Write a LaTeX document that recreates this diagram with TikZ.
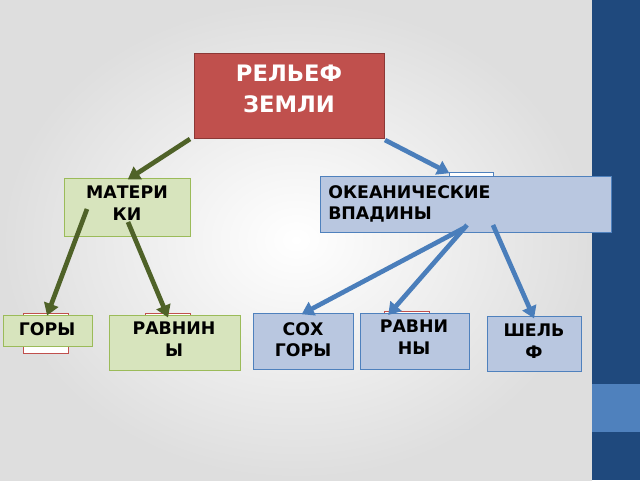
\documentclass[tikz,border=0pt]{standalone}
\usepackage{fontspec}
\setmainfont{DejaVu Sans}
\usetikzlibrary{arrows.meta,calc}
\definecolor{redf}{HTML}{C0504D}\definecolor{redd}{HTML}{8C3836}
\definecolor{grf}{HTML}{D7E4BD}\definecolor{grd}{HTML}{9BBB59}
\definecolor{blf}{HTML}{B9C7E0}\definecolor{bld}{HTML}{4F81BD}
\definecolor{garr}{HTML}{4F6228}\definecolor{barr}{HTML}{4A7EBB}
\definecolor{bar}{HTML}{1F497D}\definecolor{barl}{HTML}{4F81BD}
\begin{document}
\begin{tikzpicture}[x=0.75pt,y=-0.75pt,
 bx/.style={draw,line width=0.8pt,inner sep=0pt,align=center,anchor=north west},
 gbx/.style={bx,fill=grf,draw=grd,text=black},
 bbx/.style={bx,fill=blf,draw=bld,text=black},
 tab/.style={draw,line width=1pt,fill=white,anchor=north west,inner sep=0pt},
 lbl/.style={anchor=north,inner sep=0pt,align=center,font=\bfseries\fontsize{13}{16}\selectfont},
 garrow/.style={draw=garr,line width=3.5pt,-{Triangle[length=9pt,width=11pt]},shorten >=-2pt},
 barrow/.style={draw=barr,line width=3.5pt,-{Triangle[length=9pt,width=11pt]},shorten >=-2pt}]
\useasboundingbox (0,0) rectangle (640,480);
\shade[inner color=white,outer color=black!13] (0,0) rectangle (592,480);
\fill[bar] (592,0) rectangle (640,480);
\fill[barl] (592,384) rectangle (640,432);
% tabs behind
\node[tab,draw=redf,minimum width=33.75pt,minimum height=30pt] (t1) at (23,313) {};
\node[tab,draw=redf,minimum width=33.75pt,minimum height=6pt] (t2) at (145,313) {};
\node[tab,draw=redf,minimum width=33.75pt,minimum height=6pt] (t3) at (279,313) {};
\node[tab,draw=redf,minimum width=33.75pt,minimum height=6pt] (t4) at (384,311) {};
\node[tab,draw=bld,minimum width=33pt,minimum height=8pt] (t5) at (449,172) {};
% main boxes
\node[bx,fill=redf,draw=redd,minimum width=142.5pt,minimum height=63.75pt] (root) at (194,53) {};
\node[lbl,text=white,font=\bfseries\fontsize{17}{23}\selectfont] (roottx) at (289,65) {РЕЛЬЕФ\\ЗЕМЛИ};
\node[gbx,minimum width=94.5pt,minimum height=43.5pt] (mat) at (64,178) {};
\node[lbl] (mattx) at (127,186) {МАТЕРИ\\КИ};
\node[bbx,minimum width=218pt,minimum height=42pt] (oc) at (320,176) {};
\node[lbl,anchor=north west,align=left] (octx) at (328,185) {ОКЕАНИЧЕСКИЕ\\ВПАДИНЫ};
\node[gbx,minimum width=66.75pt,minimum height=23.25pt] (gory) at (3,315) {};
\node[lbl] (gorytx) at (47,322) {ГОРЫ};
\node[gbx,minimum width=98.25pt,minimum height=41.25pt] (rav) at (109,315) {};
\node[lbl] (ravtx) at (174,322) {РАВНИН\\Ы};
\node[bbx,minimum width=75pt,minimum height=42pt] (soh) at (253,313) {};
\node[lbl] (sohtx) at (303,322) {СОХ\\ГОРЫ};
\node[bbx,minimum width=81.75pt,minimum height=42pt] (rav2) at (360,313) {};
\node[lbl] (rav2tx) at (414,320) {РАВНИ\\НЫ};
\node[bbx,minimum width=70.5pt,minimum height=41.25pt] (shelf) at (487,316) {};
\node[lbl] (shelftx) at (534,324) {ШЕЛЬ\\Ф};
% arrows
\coordinate (a1) at (190,139);\coordinate (a2) at (385,140);
\coordinate (m1) at (87,209);\coordinate (m2) at (128,222);
\coordinate (o1) at (464,228);\coordinate (o2) at (467,225);\coordinate (o3) at (493,225);
\draw[garrow] (a1) -- (mat.north west -| 130,178);
\draw[barrow] (a2) -- (t5.north west -| 447,172);
\draw[garrow] (m1) -- (t1.north west -| 48,313);
\draw[garrow] (m2) -- (rav.north west -| 167,315);
\draw[barrow] (o1) -- (soh.north west -| 304,313);
\draw[barrow] (o2) -- (rav2.north west -| 390,313);
\draw[barrow] (o3) -- (shelf.north west -| 533,316);
\end{tikzpicture}
\end{document}
